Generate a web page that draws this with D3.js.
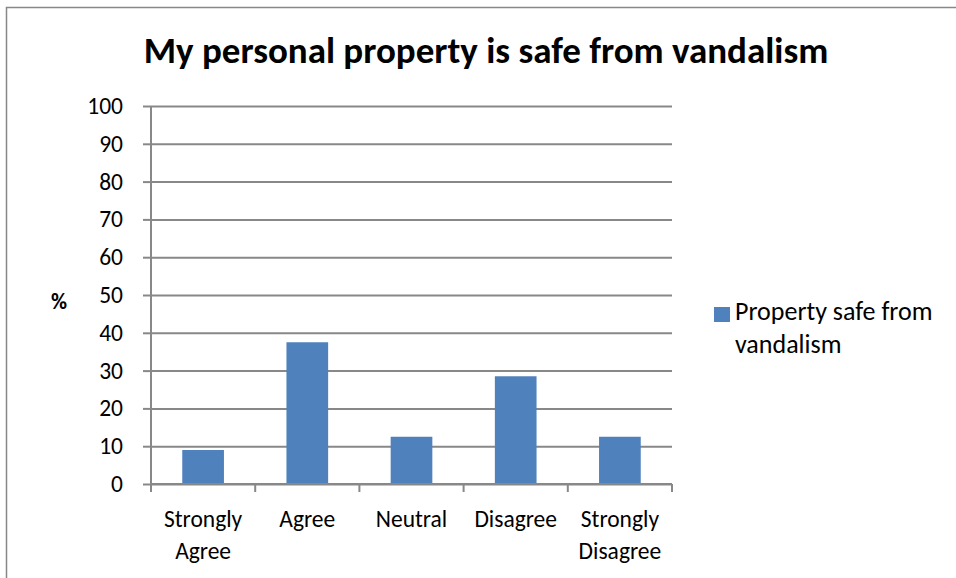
<!DOCTYPE html>
<html>
<head>
<meta charset="utf-8">
<script src="https://cdn.jsdelivr.net/npm/d3@7"></script>
<style>
    body { margin: 0; background: #fff; }
    svg { display: block; font-family: Carlito, Lato, "Open Sans", sans-serif; }
    .domain { display: none; }
    .tick text { fill: #000; }
</style>
</head>
<body>
<script>
    // data
    const categories = [["Strongly", "Agree"], ["Agree"], ["Neutral"], ["Disagree"], ["Strongly", "Disagree"]];
    const values = [9, 37.5, 12.5, 28.5, 12.5];
    const yTicks = [0, 10, 20, 30, 40, 50, 60, 70, 80, 90, 100];
    const seriesName = ["Property safe from", "vandalism"];

    const width = 956, height = 578;
    const plotL = 151, plotR = 672, plotT = 106, plotB = 484;
    const barColor = "#4f81bd", gridColor = "#888";

    const svg = d3.select("body").append("svg").attr("width", width).attr("height", height);

    // chart frame
    svg.append("rect")
        .attr("x", 6.5).attr("y", 7.5)
        .attr("width", 1000).attr("height", 700)
        .attr("fill", "none").attr("stroke", "#888").attr("stroke-width", 1.5);

    const keys = categories.map(c => c.join(" "));
    const x = d3.scaleBand().domain(keys).range([plotL, plotR]).paddingInner(0.6).paddingOuter(0.3);
    const xTicks = d3.scaleBand().domain(keys).range([plotL, plotR]);
    const y = d3.scaleLinear().domain([0, 100]).range([plotB, plotT]);

    // gridlines + y axis
    const yAxis = svg.append("g")
        .attr("transform", `translate(${plotL},0)`)
        .call(d3.axisLeft(y).tickValues(yTicks).tickSize(-(plotR - plotL)).tickPadding(28));
    yAxis.attr("font-family", null).attr("font-size", 23.5);
    yAxis.selectAll(".tick line").attr("stroke", gridColor).attr("stroke-width", 2);
    yAxis.selectAll(".tick").append("line")
        .attr("x1", -8).attr("x2", 0).attr("stroke", gridColor).attr("stroke-width", 2);

    svg.append("line")
        .attr("x1", plotL).attr("x2", plotL).attr("y1", plotT).attr("y2", plotB)
        .attr("stroke", gridColor).attr("stroke-width", 2);

    // bars
    svg.selectAll("rect.bar")
        .data(values)
        .join("rect")
        .attr("class", "bar")
        .attr("fill", barColor)
        .attr("x", (d, i) => x(keys[i]))
        .attr("y", d => y(d))
        .attr("width", x.bandwidth())
        .attr("height", d => plotB - y(d));

    // x axis line and ticks
    svg.append("line")
        .attr("x1", plotL).attr("x2", plotR).attr("y1", plotB).attr("y2", plotB)
        .attr("stroke", gridColor).attr("stroke-width", 2);
    const bounds = keys.map(k => xTicks(k)).concat([plotR]);
    svg.selectAll("line.xt")
        .data(bounds)
        .join("line")
        .attr("class", "xt")
        .attr("x1", d => d).attr("x2", d => d)
        .attr("y1", plotB).attr("y2", plotB + 8)
        .attr("stroke", gridColor).attr("stroke-width", 2);

    // category labels
    categories.forEach((lines, i) => {
        const cx = x(keys[i]) + x.bandwidth() / 2;
        const t = svg.append("text")
            .attr("text-anchor", "middle")
            .attr("font-size", 23.5);
        lines.forEach((s, j) => {
            t.append("tspan").attr("x", cx).attr("y", 527 + j * 32).text(s);
        });
    });

    // title
    svg.append("text")
        .attr("x", 486).attr("y", 63)
        .attr("text-anchor", "middle")
        .attr("font-size", 37).attr("font-weight", "bold")
        .text("My personal property is safe from vandalism");

    // y label
    svg.append("text")
        .attr("x", 59).attr("y", 309)
        .attr("text-anchor", "middle")
        .attr("font-size", 22).attr("font-weight", "bold")
        .text("%");

    // legend
    svg.append("rect")
        .attr("x", 714).attr("y", 307).attr("width", 16).attr("height", 15)
        .attr("fill", barColor);
    const lt = svg.append("text").attr("font-size", 26);
    seriesName.forEach((s, j) => {
        lt.append("tspan").attr("x", 735).attr("y", 320 + j * 33).text(s);
    });
</script>
</body>
</html>
